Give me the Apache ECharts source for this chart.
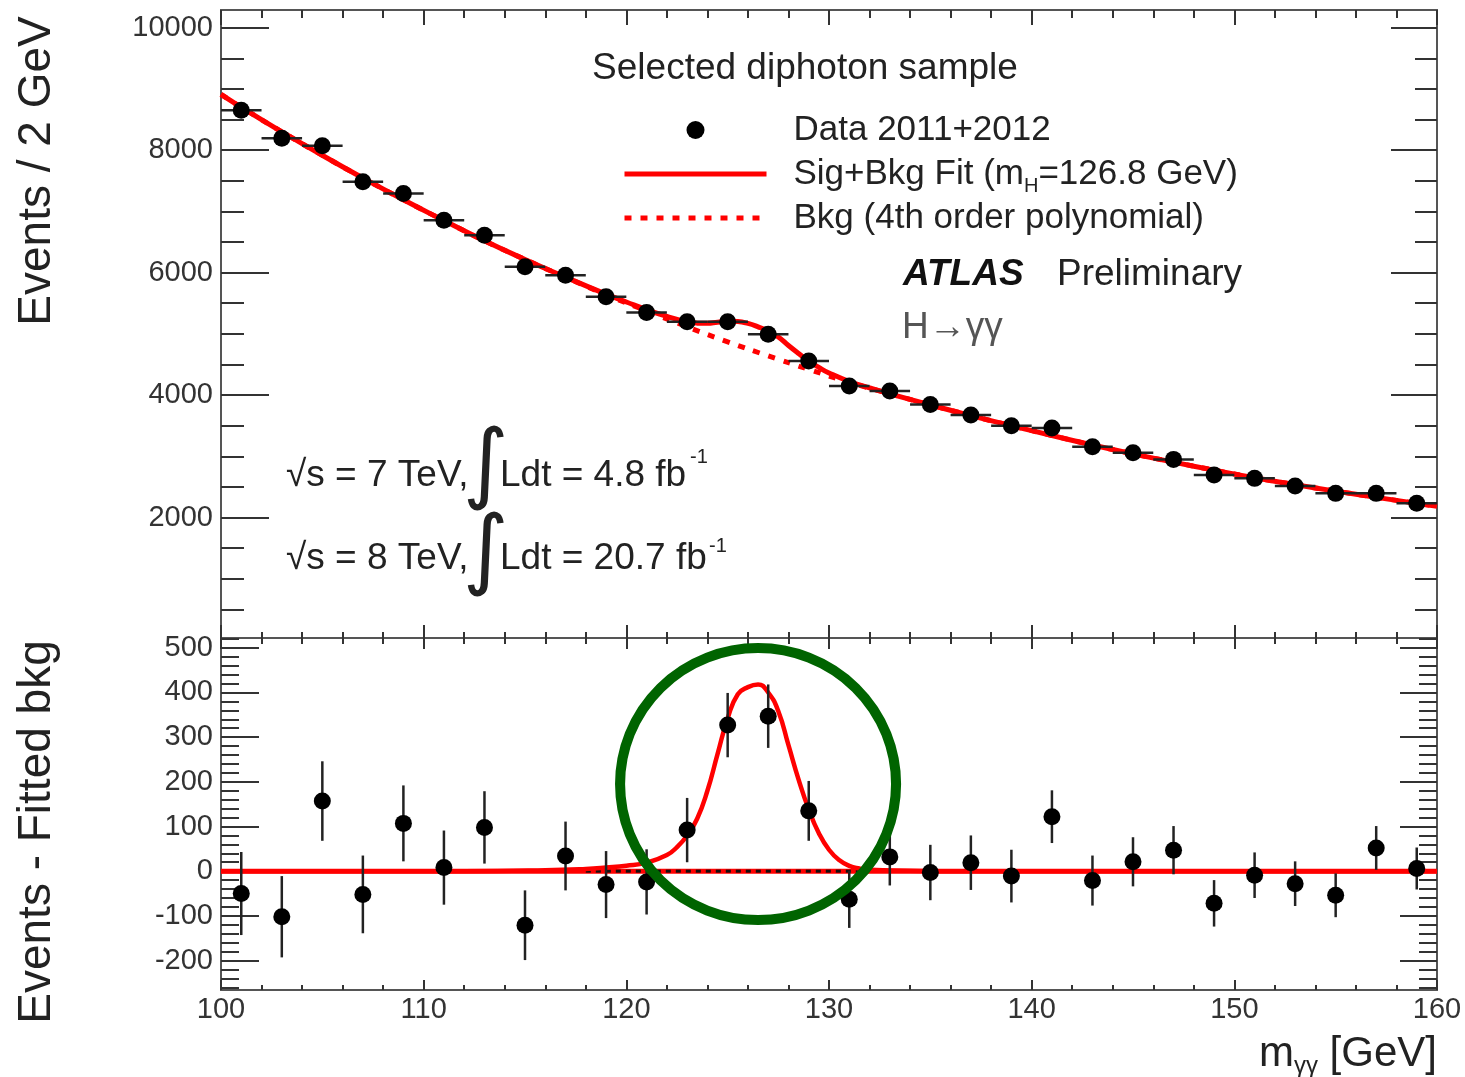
<!DOCTYPE html>
<html>
<head>
<meta charset="utf-8">
<script src="https://cdn.jsdelivr.net/npm/echarts@6/dist/echarts.min.js"></script>
<style>html,body{margin:0;padding:0;background:#fff}#c{width:1465px;height:1077px}</style>
</head>
<body>
<div id="c"></div>
<script>
// ---- data ----
const massBins = [101,103,105,107,109,111,113,115,117,119,121,123,125,127,129,131,133,135,137,139,141,143,145,147,149,151,153,155,157,159];
const eventsData = [8653,8193,8072,7484,7294,6857,6612,6095,5959,5605,5347,5197,5197,4992,4555,4147,4065,3848,3674,3499,3461,3156,3058,2950,2694,2640,2515,2395,2395,2232];
const eventErrors = [93,91,89,87,85,83,81,78,77,75,73,72,72,71,67,64,64,62,61,59,59,56,55,54,52,51,50,49,49,47];
const residuals = [-50,-102,157,-52,107,8,98,-121,34,-30,-24,92,327,347,135,-63,32,-3,19,-11,122,-21,21,47,-72,-9,-28,-54,52,6];
const binHalfWidth = 1;

const bkgCurve = [[100,8910],[101,8700],[103,8300],[105,7915],[107,7545],[109,7190],[111,6850],[113,6520],[115,6215],[117,5925],[119,5640],[121,5375],[123,5115],[125,4870],[127,4640],[129,4420],[131,4210],[133,4020],[135,3840],[137,3665],[139,3500],[141,3340],[143,3185],[145,3040],[147,2905],[149,2775],[151,2650],[153,2538],[155,2432],[157,2330],[159,2232],[160,2185]];
const sigBkgCurve = [[100,8910],[101,8700],[103,8300],[105,7915],[107,7545],[109,7190],[111,6850],[113,6520],[115,6215],[117,5927],[119,5648],[120,5520],[121,5395],[122,5285],[123,5195],[123.5,5175],[124,5172],[124.5,5190],[125,5205],[125.5,5200],[126,5170],[126.5,5115],[127,5045],[127.5,4948],[128,4810],[128.5,4680],[129,4556],[129.5,4452],[130,4362],[131,4222],[132,4118],[133,4021],[135,3840],[137,3665],[139,3500],[141,3340],[143,3185],[145,3040],[147,2905],[149,2775],[151,2650],[153,2538],[155,2432],[157,2330],[159,2232],[160,2185]];
const signalCurve = [[100,0],[112,0],[116,2],[118,5],[119,8],[120,12],[121,19],[122,36],[122.5,54],[123,80],[123.5,118],[124,180],[124.5,262],[125,342],[125.5,396],[126,412],[126.5,418],[127,400],[127.5,358],[128,282],[128.5,205],[129,138],[129.5,85],[130,48],[130.5,25],[131,12],[131.5,6],[132,3],[134,1],[136,0],[160,0]];
const zeroLine = [[100,0],[160,0]];
const bkgZeroDotted = [[118,0],[131.5,0]];
const highlight = [[126.5,195]];

const topYLabels = [2000,4000,6000,8000,10000];
const topYMajor = [2000,4000,6000,8000,10000];
const topYMinor = [500,1000,1500,2500,3000,3500,4500,5000,5500,6500,7000,7500,8500,9000,9500];
const botYLabels = [-200,-100,0,100,200,300,400,500];
const botYMajor = [-200,-100,0,100,200,300,400,500];
const botYMinor = [-260,-240,-220,-180,-160,-140,-120,-80,-60,-40,-20,20,40,60,80,120,140,160,180,220,240,260,280,320,340,360,380,420,440,460,480,520];

// ---- chart ----
const FONT = '"Liberation Sans", Arial, Helvetica, sans-serif';
const TXT = '#222';
const chart = echarts.init(document.getElementById('c'), null, {renderer: 'canvas', width: 1465, height: 1077});

const frameLine = {color: '#555', width: 2};
const tickLine = {color: '#333', width: 2};
const plainNum = v => String(v);

function xAx(grid, pos, majorLen, minorLen, labels) {
  return {
    type: 'value', gridIndex: grid, position: pos, min: 100, max: 160, interval: 10,
    axisLine: {show: true, onZero: false, lineStyle: frameLine},
    axisTick: {show: true, inside: true, length: majorLen, lineStyle: tickLine},
    minorTick: {show: true, splitNumber: 5, length: minorLen, lineStyle: tickLine},
    splitLine: {show: false}, minorSplitLine: {show: false},
    axisLabel: {show: labels, margin: 5, fontSize: 29, color: '#333', fontFamily: FONT, formatter: plainNum}
  };
}
function yAx(grid, pos, min, max, ticks, len, labels) {
  return {
    type: 'value', gridIndex: grid, position: pos, min: min, max: max,
    axisLine: {show: true, onZero: false, lineStyle: frameLine},
    axisTick: {show: true, inside: true, length: len, customValues: ticks, lineStyle: tickLine},
    splitLine: {show: false},
    axisLabel: labels ? {show: true, customValues: labels, margin: 8, fontSize: 29, color: '#333', fontFamily: FONT, formatter: plainNum} : {show: false}
  };
}

function errRender(horizontal) {
  return function (params, api) {
    const x = api.value(0), y = api.value(1), e = api.value(2);
    const lo = api.coord([x, y - e]), hi = api.coord([x, y + e]);
    const children = [{type: 'line', shape: {x1: lo[0], y1: lo[1], x2: hi[0], y2: hi[1]}, style: {stroke: '#222', lineWidth: 2.5}}];
    if (horizontal) {
      const l = api.coord([x - binHalfWidth, y]), r = api.coord([x + binHalfWidth, y]);
      children.push({type: 'line', shape: {x1: l[0], y1: l[1], x2: r[0], y2: r[1]}, style: {stroke: '#222', lineWidth: 2.5}});
    }
    return {type: 'group', children: children};
  };
}

const topPts = massBins.map((m, i) => [m, eventsData[i], eventErrors[i]]);
const botPts = massBins.map((m, i) => [m, residuals[i], eventErrors[i]]);

const TOP_MIN = 33, TOP_MAX = 10289, BOT_MIN = -266, BOT_MAX = 522;
const hiddenSymbol = {opacity: 0};

const option = {
  animation: false,
  backgroundColor: '#fff',
  grid: [
    {left: 221, width: 1216, top: 10, height: 628},
    {left: 221, width: 1216, top: 638, height: 352}
  ],
  xAxis: [
    xAx(0, 'bottom', 13, 6, false),
    xAx(0, 'top', 15, 8, false),
    xAx(1, 'bottom', 10, 5, true),
    xAx(1, 'top', 11, 6, false)
  ],
  yAxis: [
    yAx(0, 'left', TOP_MIN, TOP_MAX, topYMajor, 48, topYLabels),
    yAx(0, 'left', TOP_MIN, TOP_MAX, topYMinor, 23, null),
    yAx(0, 'right', TOP_MIN, TOP_MAX, topYMajor, 46, null),
    yAx(0, 'right', TOP_MIN, TOP_MAX, topYMinor, 22, null),
    yAx(1, 'left', BOT_MIN, BOT_MAX, botYMajor, 38, botYLabels),
    yAx(1, 'left', BOT_MIN, BOT_MAX, botYMinor, 18, null),
    yAx(1, 'right', BOT_MIN, BOT_MAX, botYMajor, 37, null),
    yAx(1, 'right', BOT_MIN, BOT_MAX, botYMinor, 18, null)
  ],
  legend: {
    data: [
      {name: 'Data 2011+2012'},
      {name: 'Sig+Bkg Fit', itemStyle: hiddenSymbol},
      {name: 'Bkg (4th order polynomial)', itemStyle: hiddenSymbol}
    ],
    orient: 'vertical', left: 622, top: 108, padding: 0, itemWidth: 142, itemHeight: 18, itemGap: 0,
    selectedMode: false,
    lineStyle: {width: 5},
    formatter: function (name) {
      if (name === 'Sig+Bkg Fit') return '{n|Sig+Bkg Fit (m}{s|H}{n|=126.8 GeV)}';
      return '{n|' + name + '}';
    },
    textStyle: {
      fontSize: 35, fontFamily: FONT, color: TXT, lineHeight: 44, padding: [0, 0, 0, 22],
      rich: {
        n: {fontSize: 35, fontFamily: FONT, color: TXT, lineHeight: 44},
        s: {fontSize: 20, fontFamily: FONT, color: TXT, lineHeight: 20, verticalAlign: 'bottom'}
      }
    }
  },
  series: [
    {name: 'Bkg (4th order polynomial)', type: 'line', xAxisIndex: 0, yAxisIndex: 0, data: bkgCurve,
     smooth: true, symbol: 'none', showSymbol: false, z: 2,
     lineStyle: {color: '#ff0000', width: 5, type: [7, 9]}, itemStyle: {color: '#ff0000'}},
    {name: 'Sig+Bkg Fit', type: 'line', xAxisIndex: 0, yAxisIndex: 0, data: sigBkgCurve,
     smooth: true, symbol: 'none', showSymbol: false, z: 3,
     lineStyle: {color: '#ff0000', width: 5}, itemStyle: {color: '#ff0000'}},
    {name: 'errTop', type: 'custom', xAxisIndex: 0, yAxisIndex: 0, data: topPts, renderItem: errRender(true), z: 4, silent: true},
    {name: 'Data 2011+2012', type: 'scatter', xAxisIndex: 0, yAxisIndex: 0, data: topPts.map(p => [p[0], p[1]]),
     symbol: 'circle', symbolSize: 17, itemStyle: {color: '#000', opacity: 1}, z: 5, silent: true},

    {name: 'zeroBkg', type: 'line', xAxisIndex: 2, yAxisIndex: 4, data: zeroLine, symbol: 'none', z: 2,
     lineStyle: {color: '#ff0000', width: 5}},
    {name: 'zeroDotted', type: 'line', xAxisIndex: 2, yAxisIndex: 4, data: bkgZeroDotted, symbol: 'none', z: 3,
     lineStyle: {color: '#111', width: 3, type: [5, 5]}},
    {name: 'signal', type: 'line', xAxisIndex: 2, yAxisIndex: 4, data: signalCurve, smooth: true,
     symbol: 'none', z: 3, lineStyle: {color: '#ff0000', width: 4.5}},
    {name: 'errBot', type: 'custom', xAxisIndex: 2, yAxisIndex: 4, data: botPts, renderItem: errRender(false), z: 4, silent: true},
    {name: 'Residuals', type: 'scatter', xAxisIndex: 2, yAxisIndex: 4, data: botPts.map(p => [p[0], p[1]]),
     symbol: 'circle', symbolSize: 17, itemStyle: {color: '#000', opacity: 1}, z: 5, silent: true},
    {name: 'highlight', type: 'scatter', xAxisIndex: 2, yAxisIndex: 4, data: highlight, symbol: 'circle',
     symbolSize: [276, 272], clip: false, silent: true, z: 10,
     itemStyle: {color: 'rgba(0,0,0,0)', borderColor: '#006400', borderWidth: 10, opacity: 1}}
  ],
  graphic: [
    {type: 'text', x: 805, y: 69, style: {text: 'Selected diphoton sample', font: '37px ' + FONT, fill: TXT, textAlign: 'center', textVerticalAlign: 'middle'}},
    {type: 'text', x: 903, y: 275, style: {text: 'ATLAS', font: 'italic bold 37px ' + FONT, fill: '#111', textAlign: 'left', textVerticalAlign: 'middle'}},
    {type: 'text', x: 1057, y: 275, style: {text: 'Preliminary', font: '37px ' + FONT, fill: TXT, textAlign: 'left', textVerticalAlign: 'middle'}},
    {type: 'text', x: 902, y: 328, style: {text: 'H\u2192\u03b3\u03b3', font: '37px ' + FONT, fill: '#555', textAlign: 'left', textVerticalAlign: 'middle'}},

    {type: 'text', x: 286, y: 476, style: {text: '\u221as = 7 TeV,', font: '37px ' + FONT, fill: TXT, textAlign: 'left', textVerticalAlign: 'middle'}},
    {type: 'text', x: 486, y: 469, style: {text: '\u222b', font: '88px "DejaVu Sans"', fill: TXT, textAlign: 'center', textVerticalAlign: 'middle'}},
    {type: 'text', x: 500, y: 476, style: {text: 'Ldt = 4.8 fb', font: '37px ' + FONT, fill: TXT, textAlign: 'left', textVerticalAlign: 'middle'}},
    {type: 'text', x: 690, y: 457, style: {text: '-1', font: '20px ' + FONT, fill: TXT, textAlign: 'left', textVerticalAlign: 'middle'}},

    {type: 'text', x: 286, y: 559, style: {text: '\u221as = 8 TeV,', font: '37px ' + FONT, fill: TXT, textAlign: 'left', textVerticalAlign: 'middle'}},
    {type: 'text', x: 486, y: 555, style: {text: '\u222b', font: '88px "DejaVu Sans"', fill: TXT, textAlign: 'center', textVerticalAlign: 'middle'}},
    {type: 'text', x: 500, y: 559, style: {text: 'Ldt = 20.7 fb', font: '37px ' + FONT, fill: TXT, textAlign: 'left', textVerticalAlign: 'middle'}},
    {type: 'text', x: 709, y: 546, style: {text: '-1', font: '20px ' + FONT, fill: TXT, textAlign: 'left', textVerticalAlign: 'middle'}},

    {type: 'text', x: 37, y: 171, rotation: Math.PI / 2, style: {text: 'Events / 2 GeV', font: '46px ' + FONT, fill: TXT, textAlign: 'center', textVerticalAlign: 'middle'}},
    {type: 'text', x: 37, y: 832, rotation: Math.PI / 2, style: {text: 'Events - Fitted bkg', font: '46px ' + FONT, fill: TXT, textAlign: 'center', textVerticalAlign: 'middle'}},
    {type: 'text', x: 1437, y: 1054, style: {
      text: '{m|m}{s|\u03b3\u03b3}{m| [GeV]}', textAlign: 'right', textVerticalAlign: 'middle',
      rich: {
        m: {fontSize: 42, fontFamily: FONT, fill: TXT, color: TXT, lineHeight: 48},
        s: {fontSize: 24, fontFamily: FONT, fill: TXT, color: TXT, lineHeight: 24, verticalAlign: 'bottom'}
      }
    }}
  ]
};
chart.setOption(option);
</script>
</body>
</html>
